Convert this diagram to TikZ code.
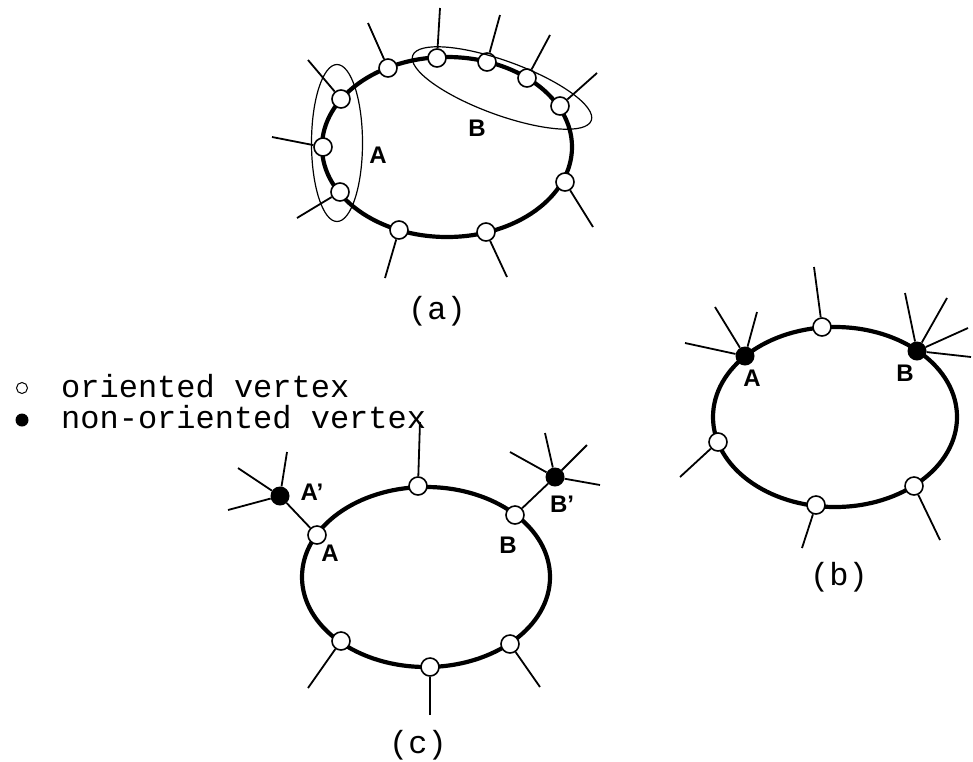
\documentclass[tikz,border=0pt]{standalone}
\usepackage{fontspec}
\newfontfamily\tw{Liberation Mono}
\newfontfamily\lb{Liberation Sans}
\usetikzlibrary{shapes.geometric}
\begin{document}
\begin{tikzpicture}[x=1pt,y=-1pt]
\tikzstyle{ov}=[draw,circle,fill=white,line width=1.6pt,minimum size=18pt,inner sep=0pt]
\tikzstyle{nv}=[circle,fill=black,minimum size=19pt,inner sep=0pt]
\tikzstyle{ring}=[line width=4.2pt]
\tikzstyle{stub}=[line width=1.8pt]
\tikzstyle{grp}=[draw,ellipse,line width=1.2pt,inner sep=0pt]
\tikzstyle{lab}=[font=\lb\bfseries\fontsize{24}{27}\selectfont,inner sep=0pt]
\tikzstyle{captxt}=[font=\tw\fontsize{32}{36}\selectfont,inner sep=0pt]
\useasboundingbox (0,0) rectangle (973,761);
% (a)
\coordinate (ca) at (447,147);
\draw[ring] (ca) ellipse [x radius=125pt, y radius=90pt];
\foreach \n/\x/\y/\u/\v in {a1/341/99/308/60, a2/323/147/272/137, a3/340/192/297/218,
  a4/388/68/368/23, a5/437/58/440/8, a6/487/62/500/15, a7/527/78/550/35,
  a8/560/106/597/73, a9/565/182/593/227, a10/486/232/507/277, a11/399/230/385/278}{
  \node[ov] (\n) at (\x,\y) {};
  \coordinate (\n s) at (\u,\v);
  \draw[stub] (\n s) -- (\n);
}
\node[grp,minimum width=51pt,minimum height=157pt] (grpA) at (337,143) {};
\node[grp,minimum width=190pt,minimum height=54pt,rotate=-20] (grpB) at (502,88) {};
\node[lab] (la) at (378,155) {A};
\node[lab] (lb) at (477,128) {B};
\node[captxt] (capa) at (437,311) {(a)};
% (b)
\coordinate (cb) at (835,417);
\draw[ring] (cb) ellipse [x radius=122pt, y radius=90pt];
\node[nv] (bA) at (745,356) {};
\node[nv] (bB) at (917,351) {};
\foreach \u/\v [count=\i] in {685/343, 715/307, 757/312}{
  \coordinate (bAs\i) at (\u,\v);
  \draw[stub] (bAs\i) -- (bA);
}
\foreach \u/\v [count=\i] in {905/293, 947/298, 968/328, 971/357}{
  \coordinate (bBs\i) at (\u,\v);
  \draw[stub] (bBs\i) -- (bB);
}
\foreach \n/\x/\y/\u/\v in {b1/822/327/814/267, b2/718/442/680/477,
  b3/816/505/802/548, b4/914/486/940/540}{
  \node[ov] (\n) at (\x,\y) {};
  \coordinate (\n s) at (\u,\v);
  \draw[stub] (\n s) -- (\n);
}
\node[lab] (lbA) at (752,378) {A};
\node[lab] (lbB) at (905,373) {B};
\node[captxt] (capb) at (839,577) {(b)};
% (c)
\coordinate (cc) at (426,577);
\draw[ring] (cc) ellipse [x radius=124pt, y radius=90pt];
\node[ov] (cA) at (317,535) {};
\node[ov] (cB) at (515,515) {};
\node[nv] (cAp) at (280,496) {};
\node[nv] (cBp) at (555,477) {};
\draw[stub] (cAp) -- (cA);
\draw[stub] (cBp) -- (cB);
\foreach \u/\v [count=\i] in {238/468, 287/452, 228/510}{
  \coordinate (cAs\i) at (\u,\v);
  \draw[stub] (cAs\i) -- (cAp);
}
\foreach \u/\v [count=\i] in {510/452, 545/433, 587/445, 600/485}{
  \coordinate (cBs\i) at (\u,\v);
  \draw[stub] (cBs\i) -- (cBp);
}
\foreach \n/\x/\y/\u/\v in {c1/418/486/420/422, c2/341/641/308/688,
  c3/430/667/430/715, c4/510/644/540/687}{
  \node[ov] (\n) at (\x,\y) {};
  \coordinate (\n s) at (\u,\v);
  \draw[stub] (\n s) -- (\n);
}
\node[lab] (lcA) at (330,553) {A};
\node[lab] (lcB) at (508,545) {B};
\node[lab] (lcAp) at (312,492) {A’};
\node[lab] (lcBp) at (562,504) {B’};
\node[captxt] (capc) at (418,745) {(c)};
% legend
\node[ov,minimum size=11pt,line width=1pt] (key1) at (22,388) {};
\node[nv,minimum size=13pt] (key2) at (22,420) {};
\node[captxt,anchor=base west] (txt1) at (61,397) {oriented vertex};
\node[captxt,anchor=base west] (txt2) at (61,428) {non-oriented vertex};
\end{tikzpicture}
\end{document}
